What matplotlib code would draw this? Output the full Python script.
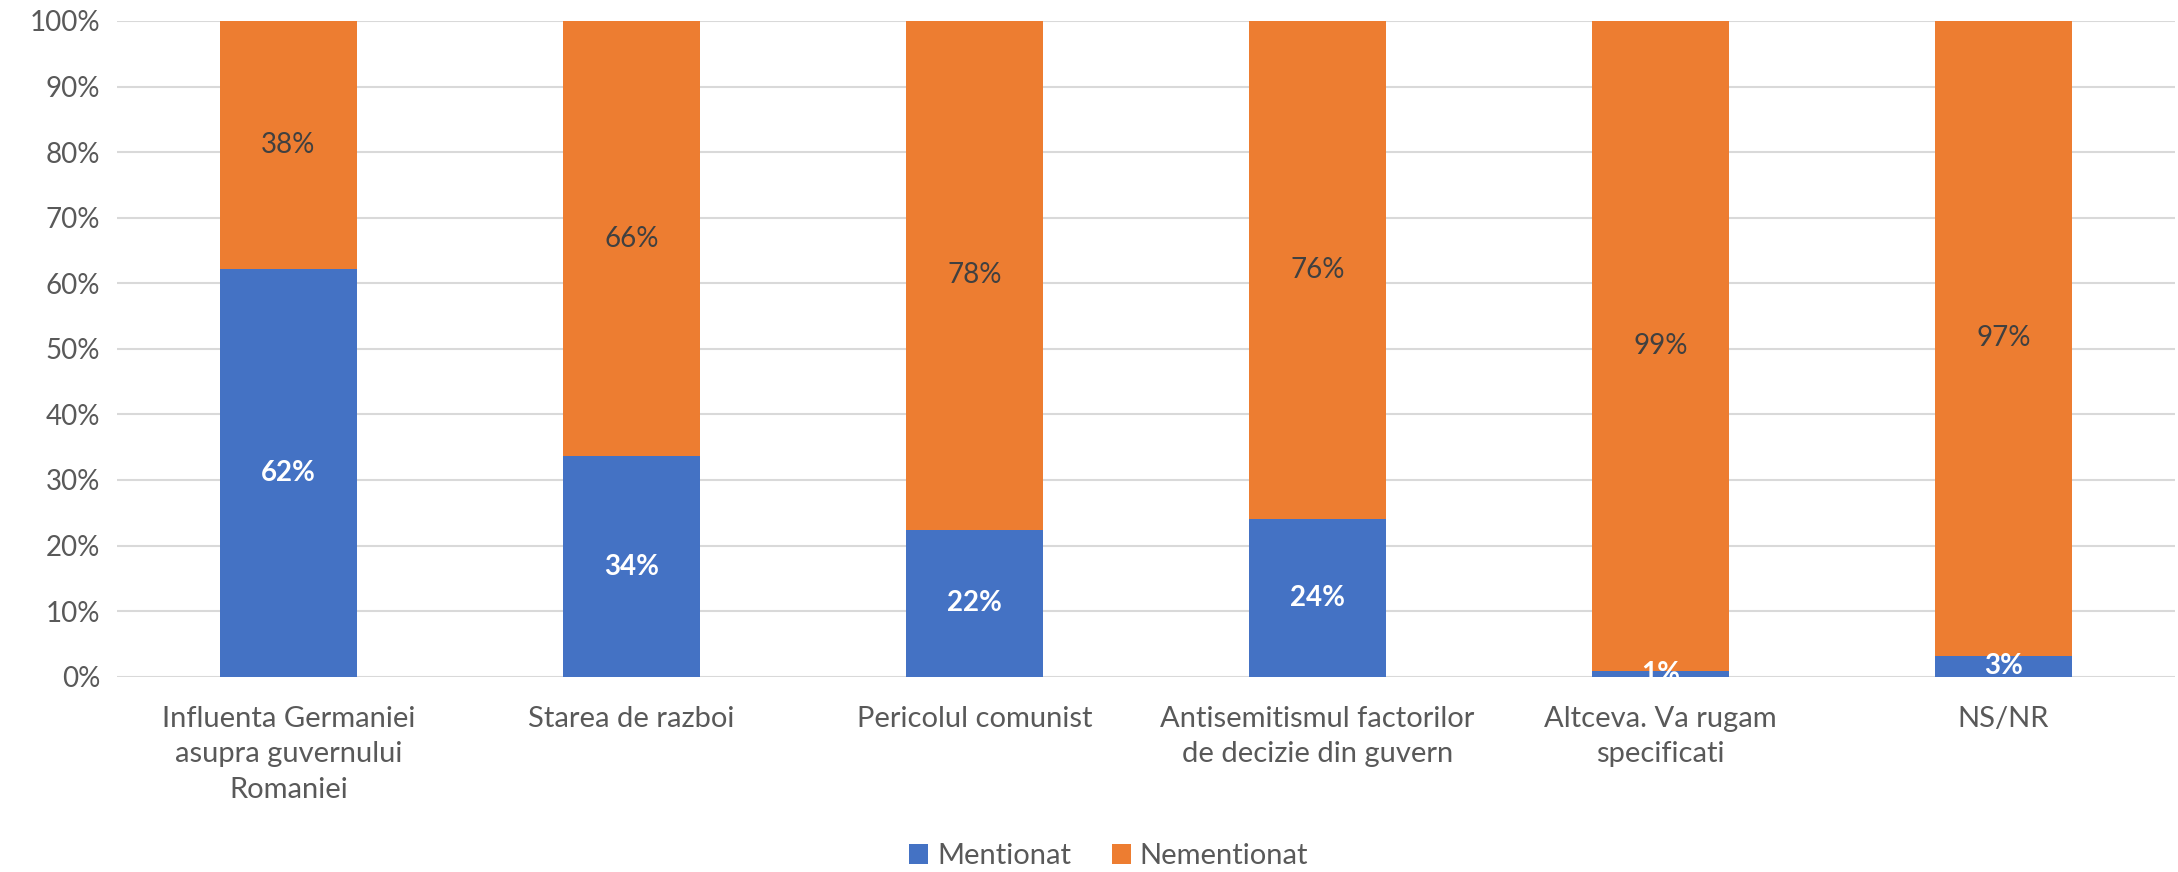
"""Stacked 100% bar chart: mentioned vs. not mentioned reasons."""

import matplotlib

matplotlib.use("Agg")
import matplotlib.pyplot as plt  # noqa: E402
import numpy as np  # noqa: E402

CATEGORIES = [
    "Influenta Germaniei\nasupra guvernului\nRomaniei",
    "Starea de razboi",
    "Pericolul comunist",
    "Antisemitismul factorilor\nde decizie din guvern",
    "Altceva. Va rugam\nspecificati",
    "NS/NR",
]
MENTIONAT = [62.1, 33.6, 22.4, 24.1, 0.8, 3.2]
NEMENTIONAT = [100 - v for v in MENTIONAT]
SERIES_NAMES = ["Mentionat", "Nementionat"]

BLUE = "#4472C4"
ORANGE = "#ED7D31"
GREY = "#595959"

plt.rcParams["font.family"] = ["Lato", "DejaVu Sans"]

fig = plt.figure(figsize=(21.78, 8.72), dpi=100)
ax = fig.add_axes([0.0537, 0.224, 0.9449, 0.752])

x = np.arange(len(CATEGORIES))
b1 = ax.bar(x, MENTIONAT, width=0.4, color=BLUE, label=SERIES_NAMES[0], zorder=2)
b2 = ax.bar(x, NEMENTIONAT, width=0.4, bottom=MENTIONAT, color=ORANGE,
            label=SERIES_NAMES[1], zorder=2)

for rect, v in zip(b1, MENTIONAT):
    t = ax.text(rect.get_x() + rect.get_width() / 2, rect.get_y() + rect.get_height() / 2,
                f"{v:.0f}%", ha="center", va="center", color="white",
                fontsize=20, fontweight="bold", zorder=3)
    t.set_clip_on(True)
for rect, v in zip(b2, NEMENTIONAT):
    ax.text(rect.get_x() + rect.get_width() / 2, rect.get_y() + rect.get_height() / 2,
            f"{v:.0f}%", ha="center", va="center", color="#404040",
            fontsize=20, zorder=3)

ax.set_xlim(-0.5, len(CATEGORIES) - 0.5)
ax.set_ylim(0, 100)
ax.set_yticks(np.arange(0, 101, 10))
ax.set_yticklabels([f"{v}%" for v in range(0, 101, 10)])
ax.set_xticks(x)
ax.set_xticklabels(CATEGORIES, linespacing=1.45)
ax.tick_params(axis="both", length=0, labelsize=20, labelcolor=GREY)
ax.tick_params(axis="x", labelsize=21, pad=21)
ax.tick_params(axis="y", pad=12)
ax.grid(axis="y", color="#D9D9D9", linewidth=1.5, zorder=0)
ax.set_axisbelow(True)
for s in ax.spines.values():
    s.set_visible(False)

fig.legend(loc="center", bbox_to_anchor=(0.509, 0.018), ncol=2, frameon=False,
           fontsize=21, labelcolor=GREY, handlelength=0.65, handleheight=0.65,
           handletextpad=0.3, columnspacing=1.4)

fig.savefig("out.png", dpi=100)
plt.close(fig)
